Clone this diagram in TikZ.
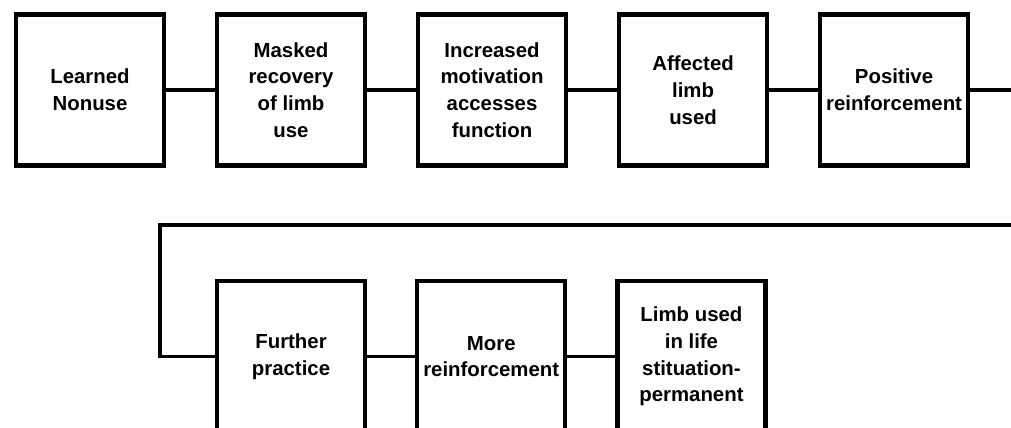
\documentclass[tikz,border=0pt]{standalone}
\usepackage{fontspec}
\setsansfont{Liberation Sans}
\usepackage{tikz}
\usetikzlibrary{positioning}

\begin{document}
\begin{tikzpicture}[font=\fontsize{14.5}{19}\selectfont\sffamily\bfseries, node distance=1.22cm]
  \tikzset{phase/.style={draw, line width=3pt, align=center, minimum width=3.7cm, minimum height=3.78cm, inner sep=2pt},link/.style={line width=2.4pt}}
  \useasboundingbox (0,0) rectangle (25.275,-10.675);
  \clip (0,0) rectangle (25.275,-10.675);
  \node[phase] (nonuse) at (2.25,-2.25) {Learned\\Nonuse};
  \node[phase, right=of nonuse] (masked) {Masked\\recovery\\of limb\\use};
  \node[phase, right=of masked] (motivation) {Increased\\motivation\\accesses\\function};
  \node[phase, right=of motivation] (affected) {Affected\\limb\\used};
  \node[phase, right=of affected] (positive) {Positive\\reinforcement};
  \node[phase, below=2.78cm of masked] (practice) {Further\\practice};
  \node[phase, right=1.2cm of practice] (moreref) {More\\reinforcement};
  \node[phase, right=1.2cm of moreref] (lifeuse) {Limb used\\in life\\stituation-\\permanent};
  \coordinate[right=1.3cm of positive] (exit);
  \coordinate (back) at (25.4,-5.625);
  \coordinate (turn) at (4.0,-5.625);
  \draw[link] (nonuse) -- (masked);
  \draw[link] (masked) -- (motivation);
  \draw[link] (motivation) -- (affected);
  \draw[link] (affected) -- (positive);
  \draw[link] (positive) -- (exit);
  \draw[link] (back) -- (turn) |- (practice);
  \draw[link] (practice) -- (moreref);
  \draw[link] (moreref) -- (lifeuse);
\end{tikzpicture}
\end{document}
